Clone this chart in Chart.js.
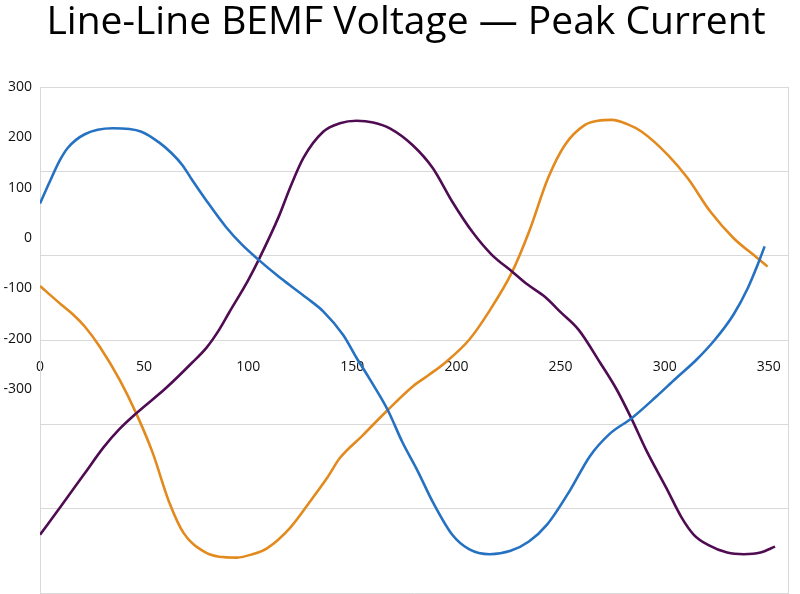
<!DOCTYPE html>
<html>
<head>
<meta charset="utf-8">
<script src="https://cdn.jsdelivr.net/npm/chart.js@4.4.0/dist/chart.umd.min.js"></script>
<style>
  html, body { margin: 0; padding: 0; background: #fff; }
  #wrap { width: 800px; height: 594px; }
</style>
</head>
<body>
<div id="wrap"><canvas id="chart" width="800" height="594"></canvas></div>
<script>
// values: [angle, volts]
const blueLine = [
  [0,162],[4,184],[9.5,213],[13.4,228],[21.5,244],[35,251],[48.7,247],[57.3,234],
  [63,222],[68.5,207],[73,190],[79.7,166],[89.3,134],[97,113],[105,95],[113.7,77],[120,65],
  [128,50],[136,34],[145.6,6],[152,-21],[158,-45],[167,-83],[174,-121],[181.5,-156],[188.6,-192],
  [198,-231],[206,-248],[216,-254],[226,-250],[234.8,-239],[243.5,-219],[254.6,-178],[264,-138],
  [273.7,-111],[284,-93],[296,-67],[305.6,-45],[315,-24],[324,0],[333,30],[340,62],[344.6,89],[348,111]
];
const purpleLine = [
  [0,-231],[10.4,-196],[21.5,-158],[30.6,-127],[38,-106],[46.2,-87],[60.5,-57],[73,-27],[80,-9],
  [86,12],[90.7,32],[100,71],[105,95],[114.6,146],[120,180],[126.5,216],[136,247],[144,257],[152,260],
  [160,258],[168,251],[179,231],[188.6,204],[198,164],[207.7,128],[217,101],[226.8,81],[234,66],[242.6,51],
  [250,33],[258.7,12],[269,-27],[277,-59],[284,-93],[291,-130],[300.9,-176],[308,-210],[314,-231],[320.8,-243],
  [330,-252],[338,-254],[346,-252],[353,-245]
];
const orangeLine = [
  [0,64],[10.4,41.5],[16,30],[21.5,16],[28.7,-8],[38.2,-47],[46.2,-87],[54,-133],[62,-192],
  [69,-229],[78.8,-251],[86,-257],[94.6,-258],[102,-254],[109,-247],[120,-223],[131,-187],[138,-163],[144,-140],[155,-113],
  [167,-83],[179,-55],[187,-41],[195,-26],[206,0],[215.7,34],[226.8,81],[234.8,128],[244,192],
  [252,231],[261.7,255],[268,260],[274.6,261],[282,256],[289,247],[301.7,219],[311,192],[322,152],[333,121],
  [344.6,97],[349.4,87]
];
const xTicks = [0, 50, 100, 150, 200, 250, 300, 350];
const yLabels = [300, 200, 100, 0, -100, -200, -300];

const FONT = "'Open Sans', 'DejaVu Sans', sans-serif";
const GRID = '#d9d9d9';
const toPts = arr => arr.map(([x, y]) => ({ x, y }));

function lineSet(data, color) {
  return {
    data: toPts(data),
    borderColor: color,
    borderWidth: 2.6,
    pointRadius: 0,
    fill: false,
    cubicInterpolationMode: 'monotone',
    yAxisID: 'y'
  };
}

new Chart(document.getElementById('chart'), {
  type: 'line',
  data: {
    datasets: [
      lineSet(blueLine, '#2571c2'),
      lineSet(purpleLine, '#4f0c53'),
      lineSet(orangeLine, '#e38a1e')
    ]
  },
  options: {
    responsive: false,
    animation: false,
    // right padding is negative so the title sits a bit right of centre, as in the picture
    layout: { padding: { left: 0, right: -12, top: 0, bottom: 1 } },
    plugins: {
      legend: { display: false },
      tooltip: { enabled: false },
      title: {
        display: true,
        text: 'Line-Line BEMF Voltage \u2014 Peak Current',
        color: '#000',
        font: { family: FONT, size: 39, weight: 'normal', lineHeight: 1.0 },
        padding: { top: 3, bottom: 45 }
      }
    },
    scales: {
      x: {
        type: 'linear',
        min: 0,
        max: 359.5,
        position: { y: 0 },
        grid: { display: false, drawTicks: false },
        border: { display: false },
        afterBuildTicks: s => { s.ticks = xTicks.map(v => ({ value: v })); },
        ticks: {
          padding: 19,
          color: '#111',
          font: { family: FONT, size: 14 },
          callback: v => String(v)
        }
      },
      // the labels in the picture are spaced apart from the gridlines
      yl: {
        type: 'linear',
        position: 'left',
        weight: 1,
        min: -705,
        max: 300,
        grid: { display: false, drawTicks: false },
        border: { display: true, color: GRID },
        afterBuildTicks: s => { s.ticks = yLabels.map(v => ({ value: v })); },
        afterFit: s => { s.width = 40; s.paddingBottom = 0; },
        ticks: {
          padding: 8,
          color: '#111',
          font: { family: FONT, size: 14 },
          callback: v => String(v)
        }
      },
      y: {
        type: 'linear',
        position: 'left',
        weight: 2,
        min: -300,
        max: 300,
        grid: { color: GRID, drawTicks: false },
        border: { display: false },
        ticks: { display: false, stepSize: 100 }
      },
      yr: {
        type: 'linear',
        position: 'right',
        min: -300,
        max: 300,
        grid: { display: false, drawTicks: false },
        border: { color: GRID },
        afterFit: s => { s.width = 19; },
        ticks: { display: false }
      }
    }
  }
});
</script>
</body>
</html>
